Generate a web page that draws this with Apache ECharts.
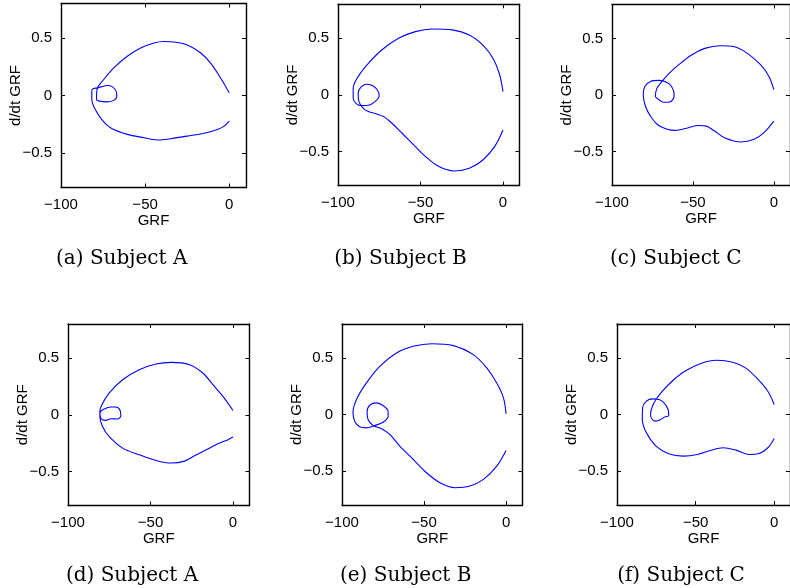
<!DOCTYPE html>
<html><head><meta charset="utf-8">
<script src="https://cdn.jsdelivr.net/npm/echarts@6/dist/echarts.min.js"></script>
<style>html,body{margin:0;padding:0;background:#fff}#c{width:790px;height:588px}</style>
</head><body><div id="c"></div>
<script>
// ---- data ----
const captions = ['(a) Subject A','(b) Subject B','(c) Subject C','(d) Subject A','(e) Subject B','(f) Subject C'];
const xTicks = [-100, -50, 0];
const yTicks = [-0.5, 0, 0.5];

const grfA1 = [0,-5,-10.9,-16.9,-24.9,-32.8,-38.8,-44.7,-52.7,-60.6,-68.6,-74.6,-78.5,-78.9,-77.3,-72.4,-68.4,-66.8,-67.2,-69.4,-72.4,-76.3,-78.5,-80.7,-81.7,-81.7,-79.7,-75.7,-70.6,-60.6,-50.7,-42.7,-34.8,-24.9,-14.9,-7,-3,0];
const dgrfA1 = [0.023,0.15,0.28,0.37,0.44,0.465,0.47,0.457,0.413,0.341,0.24,0.139,0.058,-0.035,-0.049,-0.055,-0.04,-0.006,0.038,0.075,0.087,0.075,0.065,0.061,0.038,-0.035,-0.12,-0.21,-0.28,-0.338,-0.367,-0.387,-0.376,-0.353,-0.329,-0.295,-0.266,-0.223];

const grfB1 = [0,-2,-6.1,-12.2,-20.4,-30.6,-42.9,-53.1,-63.3,-73.5,-81.6,-87.8,-90.8,-90.8,-88.8,-85.7,-81.6,-77.6,-75.1,-75.5,-78.6,-82.7,-86.1,-87.8,-87.3,-84.7,-81.6,-76.5,-72.4,-67.3,-61.2,-53.1,-46.9,-38.8,-29.6,-20.4,-12.2,-5.1,0];
const dgrfB1 = [0.029,0.176,0.324,0.44,0.53,0.574,0.582,0.559,0.5,0.397,0.279,0.162,0.059,-0.029,-0.079,-0.094,-0.091,-0.059,-0.009,0.029,0.079,0.094,0.068,0.015,-0.059,-0.118,-0.147,-0.168,-0.191,-0.25,-0.338,-0.456,-0.544,-0.632,-0.671,-0.647,-0.574,-0.456,-0.309];

const grfC1 = [0,-3,-8.1,-16.3,-24.4,-33.5,-42.7,-50.8,-58.9,-65,-69.1,-72.2,-73.2,-71.1,-68.1,-65,-62.4,-61.6,-63,-66,-71.1,-76.2,-79.7,-80.7,-79.3,-76.2,-71.1,-61,-52.8,-46.7,-41.7,-36.6,-30.5,-20.3,-12.2,-6.1,0];
const dgrfC1 = [0.047,0.164,0.266,0.368,0.427,0.436,0.412,0.354,0.266,0.187,0.12,0.061,-0.012,-0.041,-0.064,-0.064,-0.041,0.003,0.07,0.111,0.129,0.12,0.076,0.003,-0.099,-0.187,-0.269,-0.313,-0.289,-0.269,-0.275,-0.319,-0.377,-0.415,-0.392,-0.333,-0.231];

const grfA2 = [0,-6.1,-12.2,-18.3,-26.4,-37.5,-46.7,-56.8,-66.9,-75.1,-79.5,-80.7,-79.9,-77.1,-74,-70,-68,-68.4,-71,-74,-78.1,-80.5,-80.7,-79.1,-75.1,-66.9,-56.8,-46.7,-37.5,-29.4,-23.3,-16.2,-8.1,-3,0];
const dgrfA2 = [0.038,0.162,0.265,0.368,0.441,0.462,0.447,0.397,0.309,0.191,0.088,0.029,-0.035,-0.05,-0.035,-0.038,-0.009,0.038,0.068,0.068,0.05,0.02,-0.015,-0.103,-0.191,-0.294,-0.353,-0.403,-0.426,-0.409,-0.362,-0.309,-0.25,-0.22,-0.197];

const grfB2 = [0,-1.6,-5.7,-11.8,-20,-32.2,-45.4,-56.6,-66.8,-77,-85.1,-91.2,-93.3,-92.3,-89.2,-85.1,-80,-75,-71.9,-71.9,-75,-79,-82.7,-84.7,-84.1,-81.1,-75.9,-70.9,-64.8,-56.6,-48.5,-40.3,-31.2,-22,-13.8,-5.7,0];
const dgrfB2 = [0.006,0.147,0.279,0.412,0.529,0.609,0.626,0.603,0.544,0.426,0.279,0.132,0.015,-0.059,-0.109,-0.118,-0.097,-0.068,-0.015,0.029,0.079,0.103,0.088,0.029,-0.044,-0.097,-0.126,-0.176,-0.279,-0.397,-0.515,-0.603,-0.647,-0.632,-0.574,-0.456,-0.318];

const grfC2 = [0,-4.1,-10.2,-18.3,-26.4,-36.6,-46.7,-56.9,-65,-71.1,-75.2,-77.6,-78.7,-77.6,-75.2,-72.2,-69.5,-67.1,-67.5,-70.1,-73.2,-77.2,-81.3,-83.7,-83.9,-81.3,-75.2,-67.1,-57.9,-48.8,-40.7,-32.5,-24.4,-16.3,-10.2,-4.1,0];
const dgrfC2 = [0.088,0.206,0.309,0.412,0.462,0.479,0.45,0.382,0.294,0.206,0.132,0.068,0,-0.044,-0.059,-0.044,-0.021,-0.009,0.044,0.103,0.132,0.138,0.118,0.059,-0.044,-0.162,-0.279,-0.347,-0.368,-0.353,-0.318,-0.294,-0.315,-0.353,-0.347,-0.294,-0.212];

const panelsX = [grfA1, grfB1, grfC1, grfA2, grfB2, grfC2];
const panelsY = [dgrfA1, dgrfB1, dgrfC1, dgrfA2, dgrfB2, dgrfC2];

// ---- layout ----
const boxes = [
  {left: 61, top: 3.5, width: 185, height: 184, cap: [121.7, 259]},
  {left: 338, top: 4.3, width: 181.5, height: 181.3, cap: [400.5, 259]},
  {left: 612, top: 4.5, width: 180, height: 181, cap: [675.8, 259]},
  {left: 68, top: 324, width: 181.5, height: 181.5, cap: [132, 576]},
  {left: 342, top: 324, width: 180.5, height: 181, cap: [405.7, 576]},
  {left: 617, top: 324, width: 180.7, height: 181, cap: [681, 576]}
];

const fmt = v => (v === 0 ? '0' : String(v).replace('-', '\u2212'));
const sans = '"Liberation Sans", Arial, Helvetica, sans-serif';
const lineBlack = {show: true, onZero: false, lineStyle: {color: '#000', width: 1.4}};

const grid = [], xAxis = [], yAxis = [], series = [], graphic = [];
boxes.forEach((b, i) => {
  grid.push({left: b.left, top: b.top, width: b.width, height: b.height, show: false});
  const xb = {type: 'value', gridIndex: i, min: -100, max: 10, splitLine: {show: false}, axisLine: lineBlack};
  xAxis.push(Object.assign({}, xb, {
    position: 'bottom',
    axisTick: {show: true, inside: true, length: 4, customValues: xTicks, lineStyle: {color: '#000'}},
    axisLabel: {show: true, customValues: xTicks, formatter: fmt, fontFamily: sans, fontSize: 15, color: '#000', margin: 10},
    name: 'GRF', nameLocation: 'middle', nameGap: 26, nameMoveOverlap: false,
    nameTextStyle: {fontFamily: sans, fontSize: 15, color: '#000'}
  }));
  xAxis.push(Object.assign({}, xb, {
    position: 'top',
    axisTick: {show: true, inside: true, length: 4, customValues: xTicks, lineStyle: {color: '#000'}},
    axisLabel: {show: false}
  }));
  const yb = {type: 'value', gridIndex: i, min: -0.8, max: 0.8, splitLine: {show: false}, axisLine: lineBlack};
  yAxis.push(Object.assign({}, yb, {
    position: 'left',
    axisTick: {show: true, inside: true, length: 4, customValues: yTicks, lineStyle: {color: '#000'}},
    axisLabel: {show: true, customValues: yTicks, formatter: fmt, fontFamily: sans, fontSize: 15, color: '#000', margin: 9},
    name: 'd/dt GRF', nameLocation: 'middle', nameGap: 38, nameMoveOverlap: false,
    nameTextStyle: {fontFamily: sans, fontSize: 15, color: '#000'}
  }));
  yAxis.push(Object.assign({}, yb, {
    position: 'right',
    axisTick: {show: true, inside: true, length: 4, customValues: yTicks, lineStyle: {color: '#000'}},
    axisLabel: {show: false}
  }));
  const xs = panelsX[i], ys = panelsY[i];
  series.push({
    type: 'line', xAxisIndex: 2 * i, yAxisIndex: 2 * i,
    data: xs.map((x, k) => [x, ys[k]]),
    showSymbol: false, smooth: 0.33, animation: false,
    lineStyle: {color: '#0000ff', width: 1.1}
  });
  graphic.push({
    type: 'text', x: b.cap[0], y: b.cap[1],
    style: {text: captions[i], fill: '#000', font: '20px "DejaVu Serif", serif', textAlign: 'center', textVerticalAlign: 'middle'}
  });
});

const chart = echarts.init(document.getElementById('c'), null, {renderer: 'canvas'});
chart.setOption({animation: false, grid, xAxis, yAxis, series, graphic});
</script>
</body></html>
